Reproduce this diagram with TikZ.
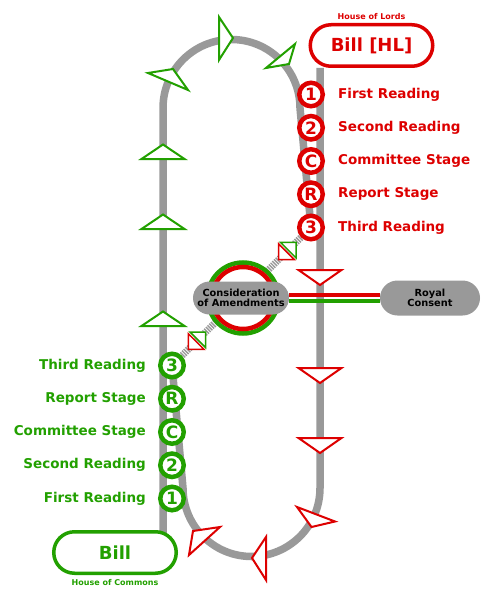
\documentclass[tikz,border=0pt]{standalone}
\usepackage{fontspec}
\setmainfont{DejaVu Sans}
\usepackage{xcolor}
\usepackage{tikz}
\usetikzlibrary{positioning}
\pgfdeclarelayer{background}
\pgfsetlayers{background,main}
\definecolor{lords}{RGB}{221,0,0}
\definecolor{commons}{RGB}{34,160,0}
\definecolor{track}{RGB}{153,153,153}
\tikzset{
	rail/.style={draw=track,line width=7.5pt},
	hatch/.style={draw=track,line width=7pt,dash pattern=on 1.4pt off 1pt},
	stage/.style={circle,draw=#1,line width=4.5pt,fill=white,minimum size=23.5pt,inner sep=0pt,text=#1,font=\fontsize{17}{17}\selectfont\bfseries},
	stagetext/.style={inner sep=0pt,text=#1,font=\fontsize{13.5}{13.5}\selectfont\bfseries},
	bill/.style={rectangle,rounded corners=20.75pt,draw=#1,line width=3.5pt,fill=white,minimum width=122.5pt,minimum height=41.5pt,text=#1,font=\fontsize{18}{18}\selectfont\bfseries},
	house/.style={inner sep=0pt,text=#1,font=\fontsize{8}{8}\selectfont\bfseries},
	pill/.style={rectangle,fill=track,align=center,inner sep=0pt,font=\fontsize{9.8}{10.5}\selectfont\bfseries},
	dir/.style={draw=#1,line width=2pt,fill=white,line join=miter}
}
\begin{document}
\begin{tikzpicture}[x=1pt,y=-1pt]
	\useasboundingbox (0,0) rectangle (493,599);
		\node[stage=lords] (r1) at (311,94.5) {1};
		\node[stage=lords,below=5.25pt of r1] (r2) {2};
		\node[stage=lords,below=5.25pt of r2] (rc) {C};
		\node[stage=lords,below=5.25pt of rc] (rr) {R};
		\node[stage=lords,below=5.25pt of rr] (r3) {3};
		\node[stage=commons] (g1) at (172,498.5) {1};
		\node[stage=commons,above=5.25pt of g1] (g2) {2};
		\node[stage=commons,above=5.25pt of g2] (gc) {C};
		\node[stage=commons,above=5.25pt of gc] (gr) {R};
		\node[stage=commons,above=5.25pt of gr] (g3) {3};
	\begin{pgfonlayer}{background}
	\draw[rail] (163,533) -- (163,108) arc[start angle=180,end angle=360,radius=68.5] -- (r3.center);
	\draw[rail] (320,68) -- (320,488) arc[start angle=0,end angle=180,radius=68.5] -- (g3.center);
	\draw[hatch] (g3.center) -- (r3.center) coordinate[pos=0.18] (dlow) coordinate[pos=0.83] (dhigh);
	\draw[dir=commons] (141.5,159) -- (163,144.5) -- (184.5,159) -- cycle;
	\draw[dir=commons] (141.5,229) -- (163,214.5) -- (184.5,229) -- cycle;
	\draw[dir=commons] (141.5,326) -- (163,311.5) -- (184.5,326) -- cycle;
	\draw[dir=commons] (148,73) -- (173,69) -- (188,90) -- cycle;
	\draw[dir=commons] (219,17) -- (233,38) -- (219,60) -- cycle;
	\draw[dir=commons] (295,44) -- (289,64) -- (266,68) -- cycle;
	\draw[dir=lords] (298.5,270) -- (320,285) -- (341.5,270) -- cycle;
	\draw[dir=lords] (298.5,368) -- (320,383) -- (341.5,368) -- cycle;
	\draw[dir=lords] (298.5,438) -- (320,453) -- (341.5,438) -- cycle;
	\draw[dir=lords] (297,507) -- (335,521.5) -- (311.5,527) -- cycle;
	\draw[dir=lords] (266,537) -- (252,558) -- (266,580) -- cycle;
	\draw[dir=lords] (193,531) -- (220,527) -- (189,555) -- cycle;
	\begin{scope}[shift={(dlow)},rotate=45]
		\draw[dir=commons,line width=1.5pt] (1.2,-11) -- (1.2,11) -- (12.2,0) -- cycle;
		\draw[dir=lords,line width=1.5pt] (-1.2,-11) -- (-1.2,11) -- (-12.2,0) -- cycle;
	\end{scope}
	\begin{scope}[shift={(dhigh)},rotate=45]
		\draw[dir=commons,line width=1.5pt] (1.2,-11) -- (1.2,11) -- (12.2,0) -- cycle;
		\draw[dir=lords,line width=1.5pt] (-1.2,-11) -- (-1.2,11) -- (-12.2,0) -- cycle;
	\end{scope}
	\end{pgfonlayer}
	\node[circle,draw=commons,line width=4.5pt,minimum size=71pt] (ring) at (243,298) {};
	\node[circle,draw=lords,fill=white,line width=4.5pt,minimum size=62pt] (innerring) at (ring) {};
	\node[pill,rounded corners=16.5pt,minimum width=96pt,minimum height=33pt] (cons) at (241,298) {Consideration\\of Amendments};
	\node[pill,rounded corners=17.5pt,minimum width=100pt,minimum height=35pt] (royal) at (430,298) {Royal\\Consent};
	\draw[lords,line width=3.5pt] ([yshift=3pt]cons.east) -- ([yshift=3pt]royal.west);
	\draw[commons,line width=3.5pt] ([yshift=-3pt]cons.east) -- ([yshift=-3pt]royal.west);
	\node[stagetext=lords,right=13pt of r1] (lr1) {First Reading};
	\node[stagetext=lords,right=13pt of r2] (lr2) {Second Reading};
	\node[stagetext=lords,right=13pt of rc] (lrc) {Committee Stage};
	\node[stagetext=lords,right=13pt of rr] (lrr) {Report Stage};
	\node[stagetext=lords,right=13pt of r3] (lr3) {Third Reading};
	\node[stagetext=commons,left=12pt of g1] (lg1) {First Reading};
	\node[stagetext=commons,left=12pt of g2] (lg2) {Second Reading};
	\node[stagetext=commons,left=12pt of gc] (lgc) {Committee Stage};
	\node[stagetext=commons,left=12pt of gr] (lgr) {Report Stage};
	\node[stagetext=commons,left=12pt of g3] (lg3) {Third Reading};
	\node[bill=commons] (bill) at (115,552.5) {Bill};
	\node[house=commons,below=4pt of bill] (hoc) {House of Commons};
	\node[bill=lords] (billhl) at (371.5,45.5) {Bill [HL]};
	\node[house=lords,above=3pt of billhl] (hol) {House of Lords};
\end{tikzpicture}
\end{document}
